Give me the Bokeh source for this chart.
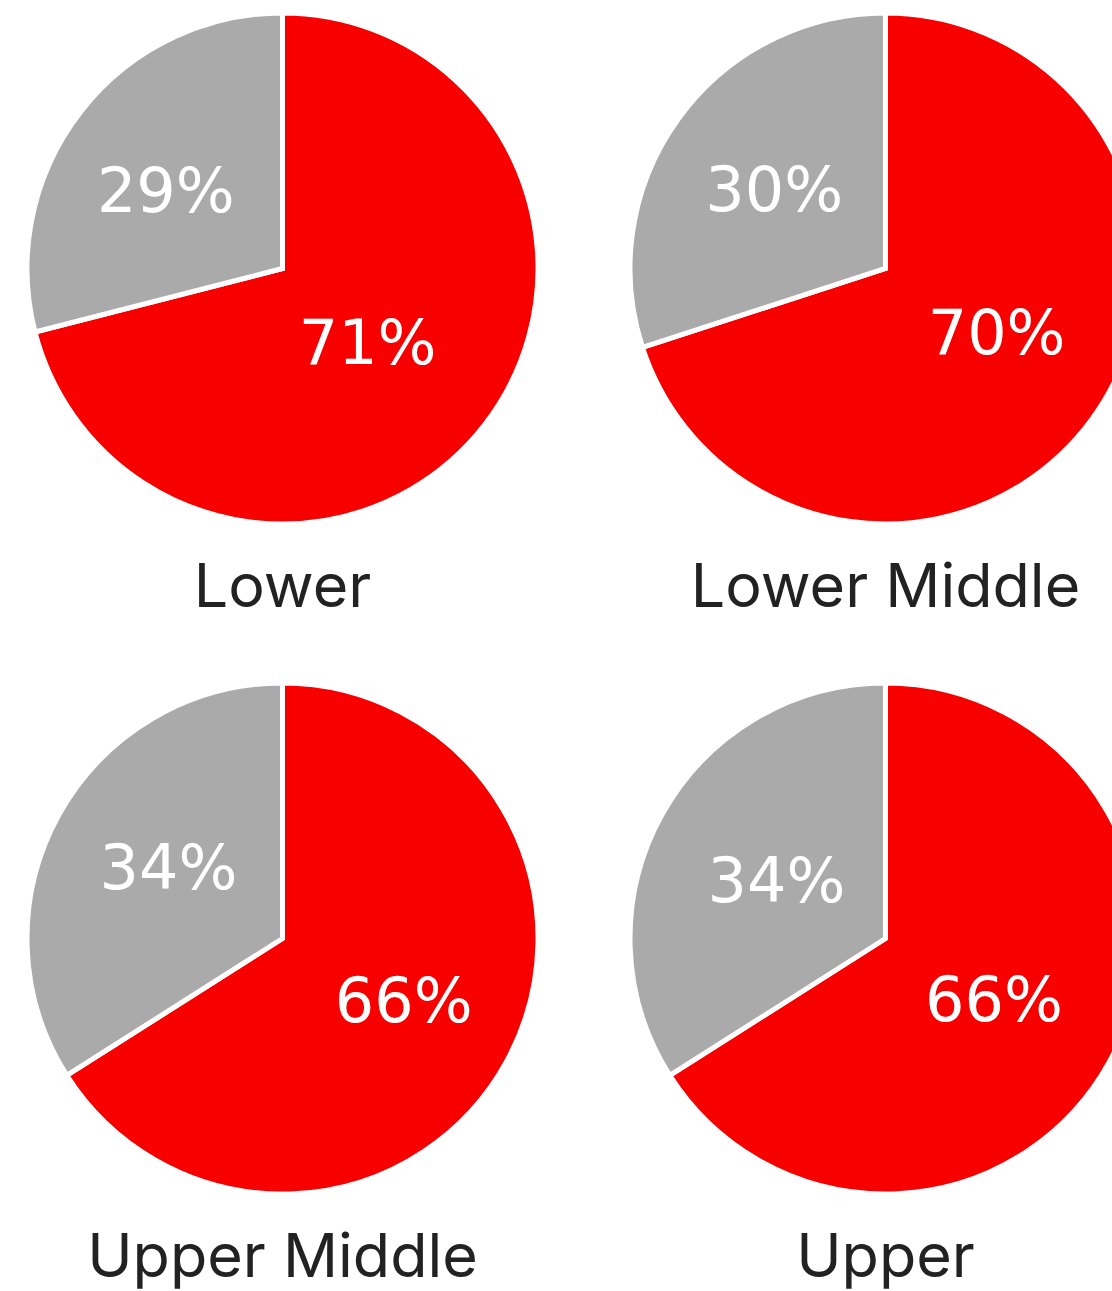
import math
from bokeh.plotting import figure
from bokeh.models import Range1d, ColumnDataSource
from bokeh.core.properties import value
from bokeh.embed import file_html
from bokeh.resources import INLINE

# ---- data ----
categories = ["Lower", "Lower Middle", "Upper Middle", "Upper"]
red_share = [71, 70, 66, 66]
gray_share = [29, 30, 34, 34]

# ---- layout (screen pixels of the picture) ----
W, H = 1112, 1291
centers_screen = [(282, 268), (885, 268), (282, 938), (885, 938)]
R = 255.5
LINE_W = 5
label_frac_gray = [0.557, 0.544, 0.534, 0.492]
label_frac_red = [0.441, 0.504, 0.536, 0.489]
label_turn_gray = [3.7, 0.0, -3.6, 0.0]   # degrees, fine placement of labels
label_turn_red = [-2.5, 6.6, 2.2, 0.0]
PCT_SHIFT = -1.5      # baseline shift for percentage labels (data units)
NAME_SHIFT = -316     # baseline of category names relative to pie centre
RED = "#f80000"
GRAY = "#aaaaaa"

p = figure(width=W, height=H, output_backend="svg", toolbar_location=None,
           x_range=Range1d(0, W), y_range=Range1d(0, H),
           min_border=0, outline_line_color=None)
p.axis.visible = False
p.xgrid.visible = False
p.ygrid.visible = False
p.background_fill_color = "white"
p.border_fill_color = "white"

xs, ys, starts, ends, colors = [], [], [], [], []
tx, ty, tt = [], [], []
nx, ny = [], []
for i, (cx, cy_s) in enumerate(centers_screen):
    cy = H - cy_s
    pr = red_share[i] / (red_share[i] + gray_share[i])
    a_top = math.pi / 2
    a_split = a_top - 2 * math.pi * pr
    # red wedge (clockwise from 12 o'clock)
    xs.append(cx); ys.append(cy); starts.append(a_split); ends.append(a_top); colors.append(RED)
    # gray wedge
    xs.append(cx); ys.append(cy); starts.append(a_top); ends.append(a_split + 2 * math.pi); colors.append(GRAY)
    # labels
    mid_red = (a_split + a_top) / 2 + math.radians(label_turn_red[i])
    mid_gray = (a_top + a_split + 2 * math.pi) / 2 + math.radians(label_turn_gray[i])
    rr = label_frac_red[i] * 253
    rg = label_frac_gray[i] * 253
    tx.append(cx + rr * math.cos(mid_red)); ty.append(cy + rr * math.sin(mid_red) + PCT_SHIFT)
    tt.append(f"{red_share[i]}%")
    tx.append(cx + rg * math.cos(mid_gray)); ty.append(cy + rg * math.sin(mid_gray) + PCT_SHIFT)
    tt.append(f"{gray_share[i]}%")
    nx.append(cx); ny.append(cy + NAME_SHIFT)

wsrc = ColumnDataSource(dict(x=xs, y=ys, s=starts, e=ends, c=colors))
p.wedge(x="x", y="y", radius=R, start_angle="s", end_angle="e", fill_color="c",
        line_color="white", line_width=LINE_W, line_join="miter", source=wsrc)

p.text(x=tx, y=ty, text=tt, text_align="center", text_baseline="alphabetic",
       text_color="white", text_font=value("DejaVu Sans"), text_font_size="62px")

p.text(x=nx, y=ny, text=categories, text_align="center", text_baseline="alphabetic",
       text_color="#222222", text_font=value("Inter"), text_font_size="61px")

open("out.html", "w").write(file_html(p, INLINE))
